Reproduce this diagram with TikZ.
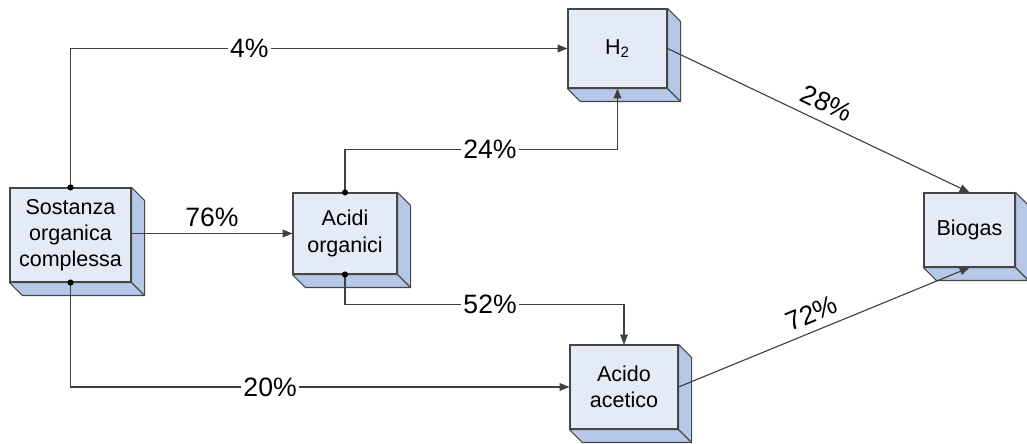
\documentclass[tikz,border=0pt]{standalone}
\usepackage{fontspec}
\setmainfont{Liberation Sans}
\usetikzlibrary{arrows.meta}

\definecolor{fronte}{RGB}{228,235,247}
\definecolor{fianco}{RGB}{181,200,232}
\definecolor{bordo}{RGB}{70,70,70}

\begin{document}
\begin{tikzpicture}[
        x=0.025cm, y=-0.025cm,
        scatola/.style={draw=bordo, fill=fronte, line width=0.8pt,
            inner sep=0pt, align=center, font=\fontsize{15.3}{18.6}\selectfont},
        lato/.style={draw=bordo, fill=fianco, line width=0.8pt, line join=round},
        freccia/.style={draw=black!75, line width=0.8pt,
            -{Triangle[length=7pt,width=5.5pt]}},
        perc/.style={font=\fontsize{18.9}{20}\selectfont, inner sep=1.5pt},
        punto/.style={fill=black}
    ]
        \useasboundingbox (0,0) rectangle (1027,444);

        % Blocchi
        \node[scatola, minimum width=121*0.025cm, minimum height=94*0.025cm]
            (sost) at (70.5,235) {Sostanza\\organica\\complessa};
        \node[scatola, minimum width=104*0.025cm, minimum height=81*0.025cm]
            (acidi) at (345,233.5) {Acidi\\organici};
        \node[scatola, minimum width=99*0.025cm, minimum height=79*0.025cm]
            (idro) at (617.5,48.5) {H\textsubscript{2}};
        \node[scatola, minimum width=108*0.025cm, minimum height=84*0.025cm]
            (acet) at (624,387) {Acido\\acetico};
        \node[scatola, minimum width=91*0.025cm, minimum height=74*0.025cm]
            (biogas) at (969.5,230) {Biogas};

        % Facce laterali e inferiori
        \foreach \n in {sost,acidi,idro,acet,biogas} {
            \filldraw[lato]
                (\n.north east) -- ([shift={(13,13)}]\n.north east)
                -- ([shift={(13,13)}]\n.south east)
                -- ([shift={(13,13)}]\n.south west)
                -- (\n.south west) -- (\n.south east) -- cycle;
            \draw[lato, fill=none]
                (\n.south east) -- ([shift={(13,13)}]\n.south east);
        }

        % Flussi
        \draw[freccia] (sost.north) |- node[pos=0.68, perc, fill=white] {4\%} (idro.west);
        \draw[freccia] (sost.east |- acidi.west) -- node[perc, above=3pt] {76\%} (acidi.west);
        \draw[freccia] (acidi.north) -- ++(0,-43)
            -| node[pos=0.266, perc, fill=white] {24\%} (idro.south);
        \draw[freccia] (acidi.south) -- ++(0,30)
            -| node[pos=0.26, perc, fill=white] {52\%} (acet.north);
        \draw[freccia] (sost.south) |- node[pos=0.7, perc, fill=white] {20\%} (acet.west);
        \draw[freccia] (idro.east) -- node[perc, sloped, above=5pt] {28\%} (biogas.north);
        \draw[freccia] (acet.east) -- node[pos=0.48, perc, sloped, above=4pt] {72\%} (biogas.south);

        % Punti di diramazione
        \foreach \p in {sost.north,sost.south,acidi.north,acidi.south}
            \fill[punto] (\p) circle (2.2pt);

    \end{tikzpicture}
\end{document}
